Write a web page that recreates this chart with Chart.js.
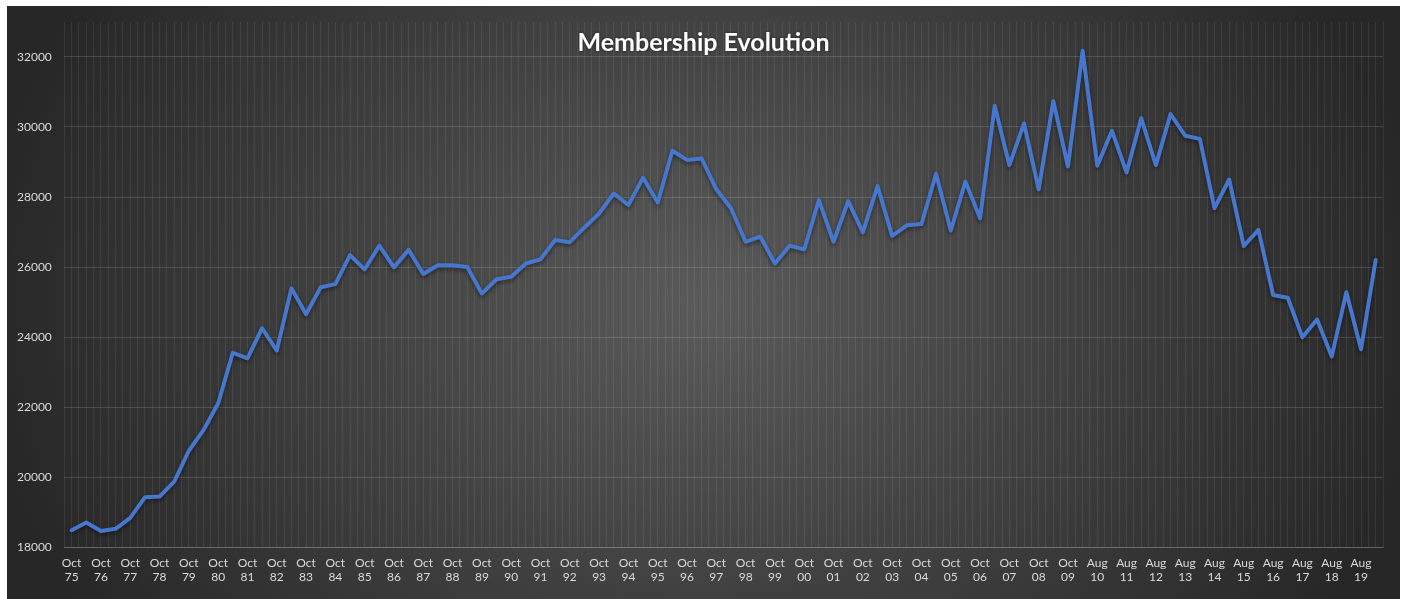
<!DOCTYPE html>
<html>
<head>
<meta charset="utf-8">
<title>Membership Evolution</title>
<script src="https://cdn.jsdelivr.net/npm/chart.js@4"></script>
<style>
  html, body { margin: 0; padding: 0; background: #fff; }
  #box {
    position: absolute; left: 7px; top: 6px; width: 1393px; height: 593px;
    background: radial-gradient(ellipse 52% 100% at 50% 50%, #5a5a5a 0%, #272727 100%);
  }
</style>
</head>
<body>
<div id="box"><canvas id="membershipChart"></canvas></div>
<script>
// half-yearly figures, a label every second point
const chartTitle = 'Membership Evolution';

const tickLabels = [
    'Oct 75', 'Oct 76', 'Oct 77', 'Oct 78', 'Oct 79', 'Oct 80', 'Oct 81', 'Oct 82', 'Oct 83',
    'Oct 84', 'Oct 85', 'Oct 86', 'Oct 87', 'Oct 88', 'Oct 89', 'Oct 90', 'Oct 91', 'Oct 92',
    'Oct 93', 'Oct 94', 'Oct 95', 'Oct 96', 'Oct 97', 'Oct 98', 'Oct 99', 'Oct 00', 'Oct 01',
    'Oct 02', 'Oct 03', 'Oct 04', 'Oct 05', 'Oct 06', 'Oct 07', 'Oct 08', 'Oct 09',
    'Aug 10', 'Aug 11', 'Aug 12', 'Aug 13', 'Aug 14', 'Aug 15', 'Aug 16', 'Aug 17', 'Aug 18', 'Aug 19'
];

const members = [
    18480, 18700, 18460, 18520, 18830, 19420, 19440, 19870, 20750, 21340,
    22100, 23550, 23390, 24250, 23610, 25390, 24650, 25420, 25510, 26340,
    25930, 26610, 25990, 26490, 25800, 26050, 26050, 26000, 25240, 25650,
    25720, 26100, 26220, 26770, 26710, 27130, 27530, 28100, 27770, 28550,
    27840, 29320, 29060, 29100, 28220, 27680, 26720, 26870, 26100, 26610,
    26500, 27910, 26720, 27880, 26990, 28310, 26890, 27190, 27230, 28660,
    27040, 28440, 27390, 30610, 28910, 30100, 28220, 30740, 28870, 32180,
    28890, 29890, 28700, 30250, 28910, 30370, 29750, 29660, 27680, 28500,
    26600, 27060, 25200, 25120, 23990, 24500, 23440, 25280, 23650, 26200
];

const yTickValues = [18000, 20000, 22000, 24000, 26000, 28000, 30000, 32000];
const yMin = 18000;
const yMax = 33000;

const periods = members.map((v, i) => i % 2 === 0 ? tickLabels[i / 2] : '');

const overlayTitle = {
    id: 'overlayTitle',
    afterDraw(chart) {
        const ctx = chart.ctx;
        ctx.save();
        ctx.font = 'bold 25px Lato';
        ctx.fillStyle = '#ffffff';
        ctx.textAlign = 'center';
        ctx.textBaseline = 'middle';
        ctx.shadowColor = 'rgba(0,0,0,0.6)';
        ctx.shadowBlur = 3;
        ctx.fillText(chartTitle, chart.width / 2, 37);
        ctx.restore();
    }
};

const lineShadow = {
    id: 'lineShadow',
    beforeDatasetDraw(chart) {
        const ctx = chart.ctx;
        ctx.save();
        ctx.shadowColor = 'rgba(0,0,0,0.45)';
        ctx.shadowBlur = 4;
        ctx.shadowOffsetY = 2;
    },
    afterDatasetDraw(chart) {
        chart.ctx.restore();
    }
};

const labelFont = { family: 'Lato', size: 12 };
const labelColor = '#d9d9d9';

const ctx = document.getElementById('membershipChart').getContext('2d');
new Chart(ctx, {
    type: 'line',
    data: {
        labels: periods,
        datasets: [{
            label: 'Members',
            data: members,
            borderColor: '#4677cc',
            borderWidth: 4,
            borderJoinStyle: 'round',
            borderCapStyle: 'round',
            pointRadius: 0,
            tension: 0,
            fill: false
        }]
    },
    options: {
        responsive: true,
        maintainAspectRatio: false,
        animation: false,
        layout: { padding: { left: 10, right: 17, top: 16, bottom: 0 } },
        plugins: {
            legend: { display: false },
            tooltip: { enabled: false }
        },
        scales: {
            x: {
                type: 'category',
                offset: true,
                grid: { display: false, drawTicks: false },
                border: { display: true, color: 'rgba(255,255,255,0.16)' },
                ticks: {
                    autoSkip: false,
                    maxRotation: 0,
                    minRotation: 0,
                    padding: 9,
                    color: labelColor,
                    font: labelFont,
                    callback: function (value) {
                        const l = this.getLabelForValue(value);
                        return l ? l.split(' ') : '';
                    }
                },
                afterFit(scale) { scale.height = 52; }
            },
            xGrid: {
                type: 'linear',
                position: 'bottom',
                min: -0.5,
                max: members.length - 0.5,
                grid: { color: 'rgba(255,255,255,0.08)', drawTicks: false },
                border: { display: false },
                ticks: { display: false, stepSize: 0.5 }
            },
            y: {
                min: yMin,
                max: yMax,
                grid: { color: 'rgba(255,255,255,0.14)', drawTicks: false },
                border: { display: false },
                ticks: {
                    crossAlign: 'far',
                    color: labelColor,
                    font: labelFont,
                    callback: value => String(value)
                },
                afterBuildTicks(scale) {
                    scale.ticks = yTickValues.map(v => ({ value: v }));
                },
                afterFit(scale) { scale.width = 47.3; }
            }
        }
    },
    plugins: [lineShadow, overlayTitle]
});
</script>
</body>
</html>
